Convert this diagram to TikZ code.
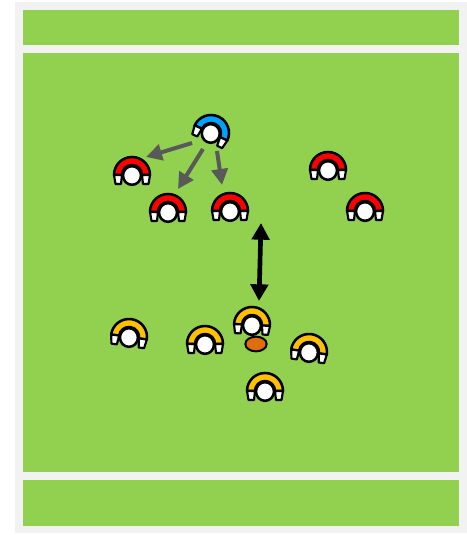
\documentclass[tikz,border=0pt]{standalone}
\usepackage{xcolor}
\definecolor{pitch}    {HTML}{92D050}
\definecolor{chalk}    {HTML}{F2F2F2}
\definecolor{defender} {HTML}{FF0000}
\definecolor{attacker} {HTML}{FFC000}
\definecolor{coach}    {HTML}{00A2FF}
\definecolor{leather}  {HTML}{E36C0A}
\definecolor{runline}  {HTML}{595959}
\usetikzlibrary{arrows.meta, shapes.geometric}
\tikzset{
    kit/.style={draw=black, line width=1.9pt, line join=round},
    runedge/.style={-{Triangle[length=12pt, width=12pt]}, line width=3pt, runline},
    gapedge/.style={{Triangle[length=12.5pt, width=13pt]}-{Triangle[length=12.5pt, width=13pt]}, line width=3.5pt, black},
    pics/player/.style={code={
        \draw[kit, fill=#1] (-18,0) arc[start angle=180, end angle=360, x radius=18, y radius=18]
            -- (10,0) arc[start angle=360, end angle=180, x radius=10, y radius=10] -- cycle;
        \draw[kit, line width=1.6pt, fill=white] (-18,0) -- (-10,0) -- (-11,9) -- (-16.5,9) -- cycle;
        \draw[kit, line width=1.6pt, fill=white] (18,0) -- (10,0) -- (11,9) -- (16.5,9) -- cycle;
        \node[ellipse, kit, fill=white, minimum width=13.5pt, minimum height=14pt, inner sep=0pt] (-head) at (0,0.5) {};
    }},
}
\begin{document}
\begin{tikzpicture}[x=0.75pt, y=-0.75pt]
    \useasboundingbox (0,0) rectangle (467,535);
    % pitch
    \fill[chalk] (15,2) rectangle (467,533);
    \fill[pitch] (23,10) rectangle (459,526);
    \fill[chalk] (23,45) rectangle (459,53);
    \fill[chalk] (23,472) rectangle (459,480);
    % defenders
    \pic (D1) at (132,175) {player=defender};
    \pic (D2) at (168,212) {player=defender};
    \pic (D3) at (230,211) {player=defender};
    \pic (D4) at (328,170) {player=defender};
    \pic (D5) at (365,211) {player=defender};
    \pic[rotate=-25] (C1) at (211,133) {player=coach};
    % attackers
    \pic[rotate=-8] (A1) at (129,337) {player=attacker};
    \pic (A2) at (205,344) {player=attacker};
    \pic[rotate=-3] (A3) at (252,325) {player=attacker};
    \pic[rotate=-8] (A4) at (309,352) {player=attacker};
    \pic (A5) at (265,391) {player=attacker};
    \node[ellipse, draw=black, line width=1.5pt, fill=leather, minimum width=16pt, minimum height=11pt, inner sep=0pt] (ball) at (256,344) {};
    % free ends
    \coordinate (R1s) at (192,143);
    \coordinate (R1e) at (146,157);
    \coordinate (R2s) at (203,149);
    \coordinate (R2e) at (178,189);
    \coordinate (R3s) at (217,151);
    \coordinate (R3e) at (222,185);
    \coordinate (G1) at (261,223);
    \coordinate (G2) at (259,301);
    \draw[runedge] (R1s) -- (R1e);
    \draw[runedge] (R2s) -- (R2e);
    \draw[runedge] (R3s) -- (R3e);
    \draw[gapedge] (G1) -- (G2);
\end{tikzpicture}
\end{document}
